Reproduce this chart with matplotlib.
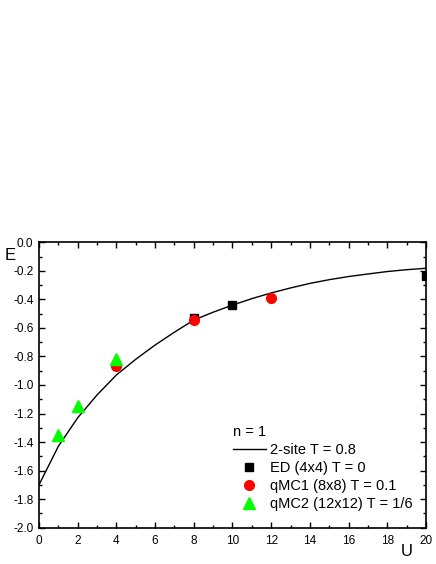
import numpy as np
import matplotlib.pyplot as plt
from matplotlib.ticker import MultipleLocator

plt.rcParams['font.family'] = ['Liberation Sans', 'DejaVu Sans']

# 2-site T = 0.8 curve
u_curve = [0, 1, 2, 3, 4, 5, 6, 7, 8, 9, 10, 11, 12, 13, 14, 15, 16, 17, 18, 19, 20]
e_curve = [-1.70, -1.43, -1.23, -1.07, -0.93, -0.82, -0.72, -0.63, -0.545, -0.49,
           -0.44, -0.395, -0.355, -0.32, -0.288, -0.262, -0.24, -0.222, -0.205, -0.192, -0.182]

# ED (4x4) T = 0
u_ed = [8, 10, 20]
e_ed = [-0.53, -0.44, -0.235]

# qMC1 (8x8) T = 0.1
u_qmc1 = [4, 8, 12]
e_qmc1 = [-0.865, -0.545, -0.39]

# qMC2 (12x12) T = 1/6
u_qmc2 = [1, 2, 4]
e_qmc2 = [-1.35, -1.145, -0.82]

fig = plt.figure(figsize=(4.36, 5.64), dpi=100)
ax = fig.add_axes([0.0894, 0.0644, 0.8876, 0.506])

ax.plot(u_curve, e_curve, color='black', lw=1.0, label='2-site T = 0.8', zorder=2)
ax.plot(u_ed, e_ed, 's', color='black', ms=6, label='ED (4x4) T = 0', zorder=3, clip_on=True)
ax.plot(u_qmc1, e_qmc1, 'o', color='#ff0000', ms=7, label='qMC1 (8x8) T = 0.1', zorder=4)
ax.plot(u_qmc2, e_qmc2, '^', color='#00ff00', ms=8, label='qMC2 (12x12) T = 1/6', zorder=5)

ax.set_xlim(0, 20)
ax.set_ylim(-2.0, 0.0)
ax.xaxis.set_major_locator(MultipleLocator(2))
ax.xaxis.set_minor_locator(MultipleLocator(1))
ax.yaxis.set_major_locator(MultipleLocator(0.2))
ax.yaxis.set_minor_locator(MultipleLocator(0.1))
ax.yaxis.set_major_formatter(plt.FuncFormatter(lambda v, p: f"{v:.1f}"))
ax.tick_params(which='both', direction='in', top=True, right=True, labelsize=8.5, width=1.0)
ax.tick_params(which='major', length=4, pad=5)
ax.tick_params(axis='y', which='major', pad=4)
ax.tick_params(which='minor', length=2)
for s in ax.spines.values():
    s.set_linewidth(1.2)

fig.text(5 / 436, 1 - 255 / 564, 'E', fontsize=12, va='center', ha='left')
fig.text(407 / 436, 1 - 552 / 564, 'U', fontsize=12, va='center', ha='center')

leg = ax.legend(loc='lower right', bbox_to_anchor=(0.993, 0.022), frameon=False, fontsize=10.5,
                title='n = 1', title_fontsize=10.5, handlelength=2.3, handletextpad=0.3,
                labelspacing=0.28, borderaxespad=0.3)
leg._legend_box.align = 'left'

fig.savefig('out.png', dpi=100)
